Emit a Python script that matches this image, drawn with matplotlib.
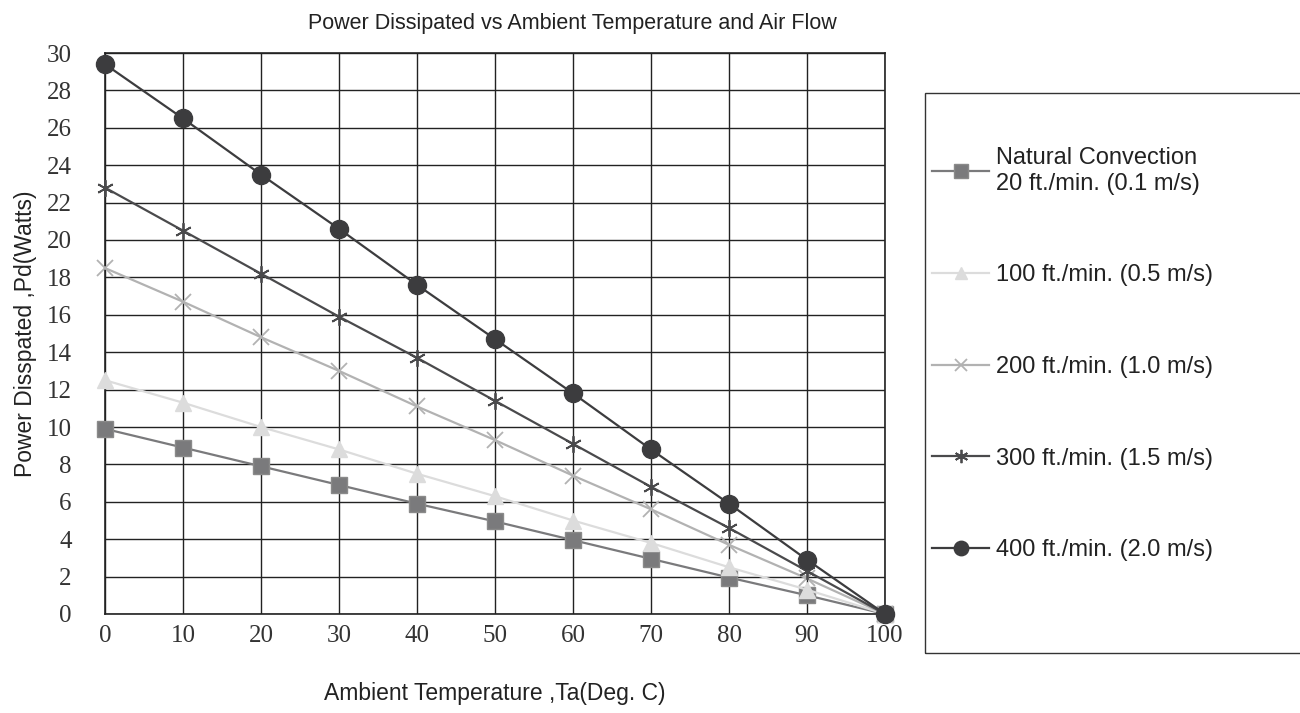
import matplotlib.pyplot as plt
from matplotlib.patches import Rectangle

# data
temps = [0, 10, 20, 30, 40, 50, 60, 70, 80, 90, 100]
natural = [9.9, 8.9, 7.9, 6.9, 5.9, 4.95, 3.95, 2.95, 1.95, 1.0, 0]
ft100 = [12.5, 11.3, 10.0, 8.8, 7.5, 6.3, 5.0, 3.8, 2.5, 1.3, 0]
ft200 = [18.5, 16.7, 14.8, 13.0, 11.1, 9.3, 7.4, 5.6, 3.7, 1.9, 0]
ft300 = [22.8, 20.5, 18.2, 15.9, 13.7, 11.4, 9.1, 6.8, 4.6, 2.3, 0]
ft400 = [29.4, 26.5, 23.5, 20.6, 17.6, 14.7, 11.8, 8.8, 5.9, 2.9, 0]

labels = ['Natural Convection\n20 ft./min. (0.1 m/s)',
          '100 ft./min. (0.5 m/s)',
          '200 ft./min. (1.0 m/s)',
          '300 ft./min. (1.5 m/s)',
          '400 ft./min. (2.0 m/s)']

sans = ['Liberation Sans', 'DejaVu Sans']
serif = ['Liberation Serif', 'DejaVu Serif']

fig = plt.figure(figsize=(13, 7.13), dpi=100)
ax = fig.add_axes([105/1300, 1 - 614/713, 780/1300, 561/713])

common = dict(lw=1.6, clip_on=False)
l1, = ax.plot(temps, natural, color='#7a7a7c', marker='s', ms=12,
              markerfacecolor='#7a7a7c', markeredgecolor='#8a8a8a', zorder=3, **common)
l2, = ax.plot(temps, ft100, color='#dcdcdc', marker='^', ms=11,
              markerfacecolor='#dcdcdc', markeredgecolor='#dcdcdc', zorder=3, **common)
l3, = ax.plot(temps, ft200, color='#b2b2b2', marker='x', ms=11,
              markeredgewidth=1.3, zorder=3, **common)
l4, = ax.plot(temps, ft300, color='#4a4a4c', marker=(6, 2, 0), ms=12,
              markeredgewidth=1.3, zorder=3, **common)
l5, = ax.plot(temps, ft400, color='#3c3c3e', marker='o', ms=13,
              markerfacecolor='#3c3c3e', zorder=4, **common)

ax.set_xlim(0, 100)
ax.set_ylim(0, 30)
ax.set_xticks(range(0, 101, 10))
ax.set_yticks(range(0, 31, 2))
ax.grid(True, color='#222222', lw=1.0)
ax.set_axisbelow(True)
for s in ax.spines.values():
    s.set_color('#222222')
    s.set_linewidth(1.2)
ax.tick_params(length=0)
ax.tick_params(axis='y', pad=24)
ax.tick_params(axis='x', pad=8)
for lab in ax.get_xticklabels() + ax.get_yticklabels():
    lab.set_family(serif)
    lab.set_fontsize(18)
    lab.set_color('#333333')

ax.set_xlabel('Ambient Temperature ,Ta(Deg. C)', family=sans, fontsize=16.5,
              color='#222222', labelpad=25)
ax.set_ylabel('Power Disspated ,Pd(Watts)', family=sans, fontsize=16.5,
              color='#222222', labelpad=7)

fig.text(572/1300, 1 - 23/713, 'Power Dissipated vs Ambient Temperature and Air Flow',
         ha='center', va='center', family=sans, fontsize=15.5, color='#222222')

# legend frame
fig.patches.append(Rectangle((925/1300, 1 - 653/713), 400/1300, 560/713,
                             transform=fig.transFigure, fill=False,
                             edgecolor='#333333', lw=1.0))
leg = fig.legend([l1, l2, l3, l4, l5], labels, loc='upper left',
                 bbox_to_anchor=(911/1300, 1 - 126/713), frameon=False,
                 handlelength=2.4, handletextpad=0.3, labelspacing=2.95,
                 prop={'family': sans, 'size': 17}, markerscale=0.8)
for t in leg.get_texts():
    t.set_color('#222222')

fig.savefig('out.png', dpi=100)
